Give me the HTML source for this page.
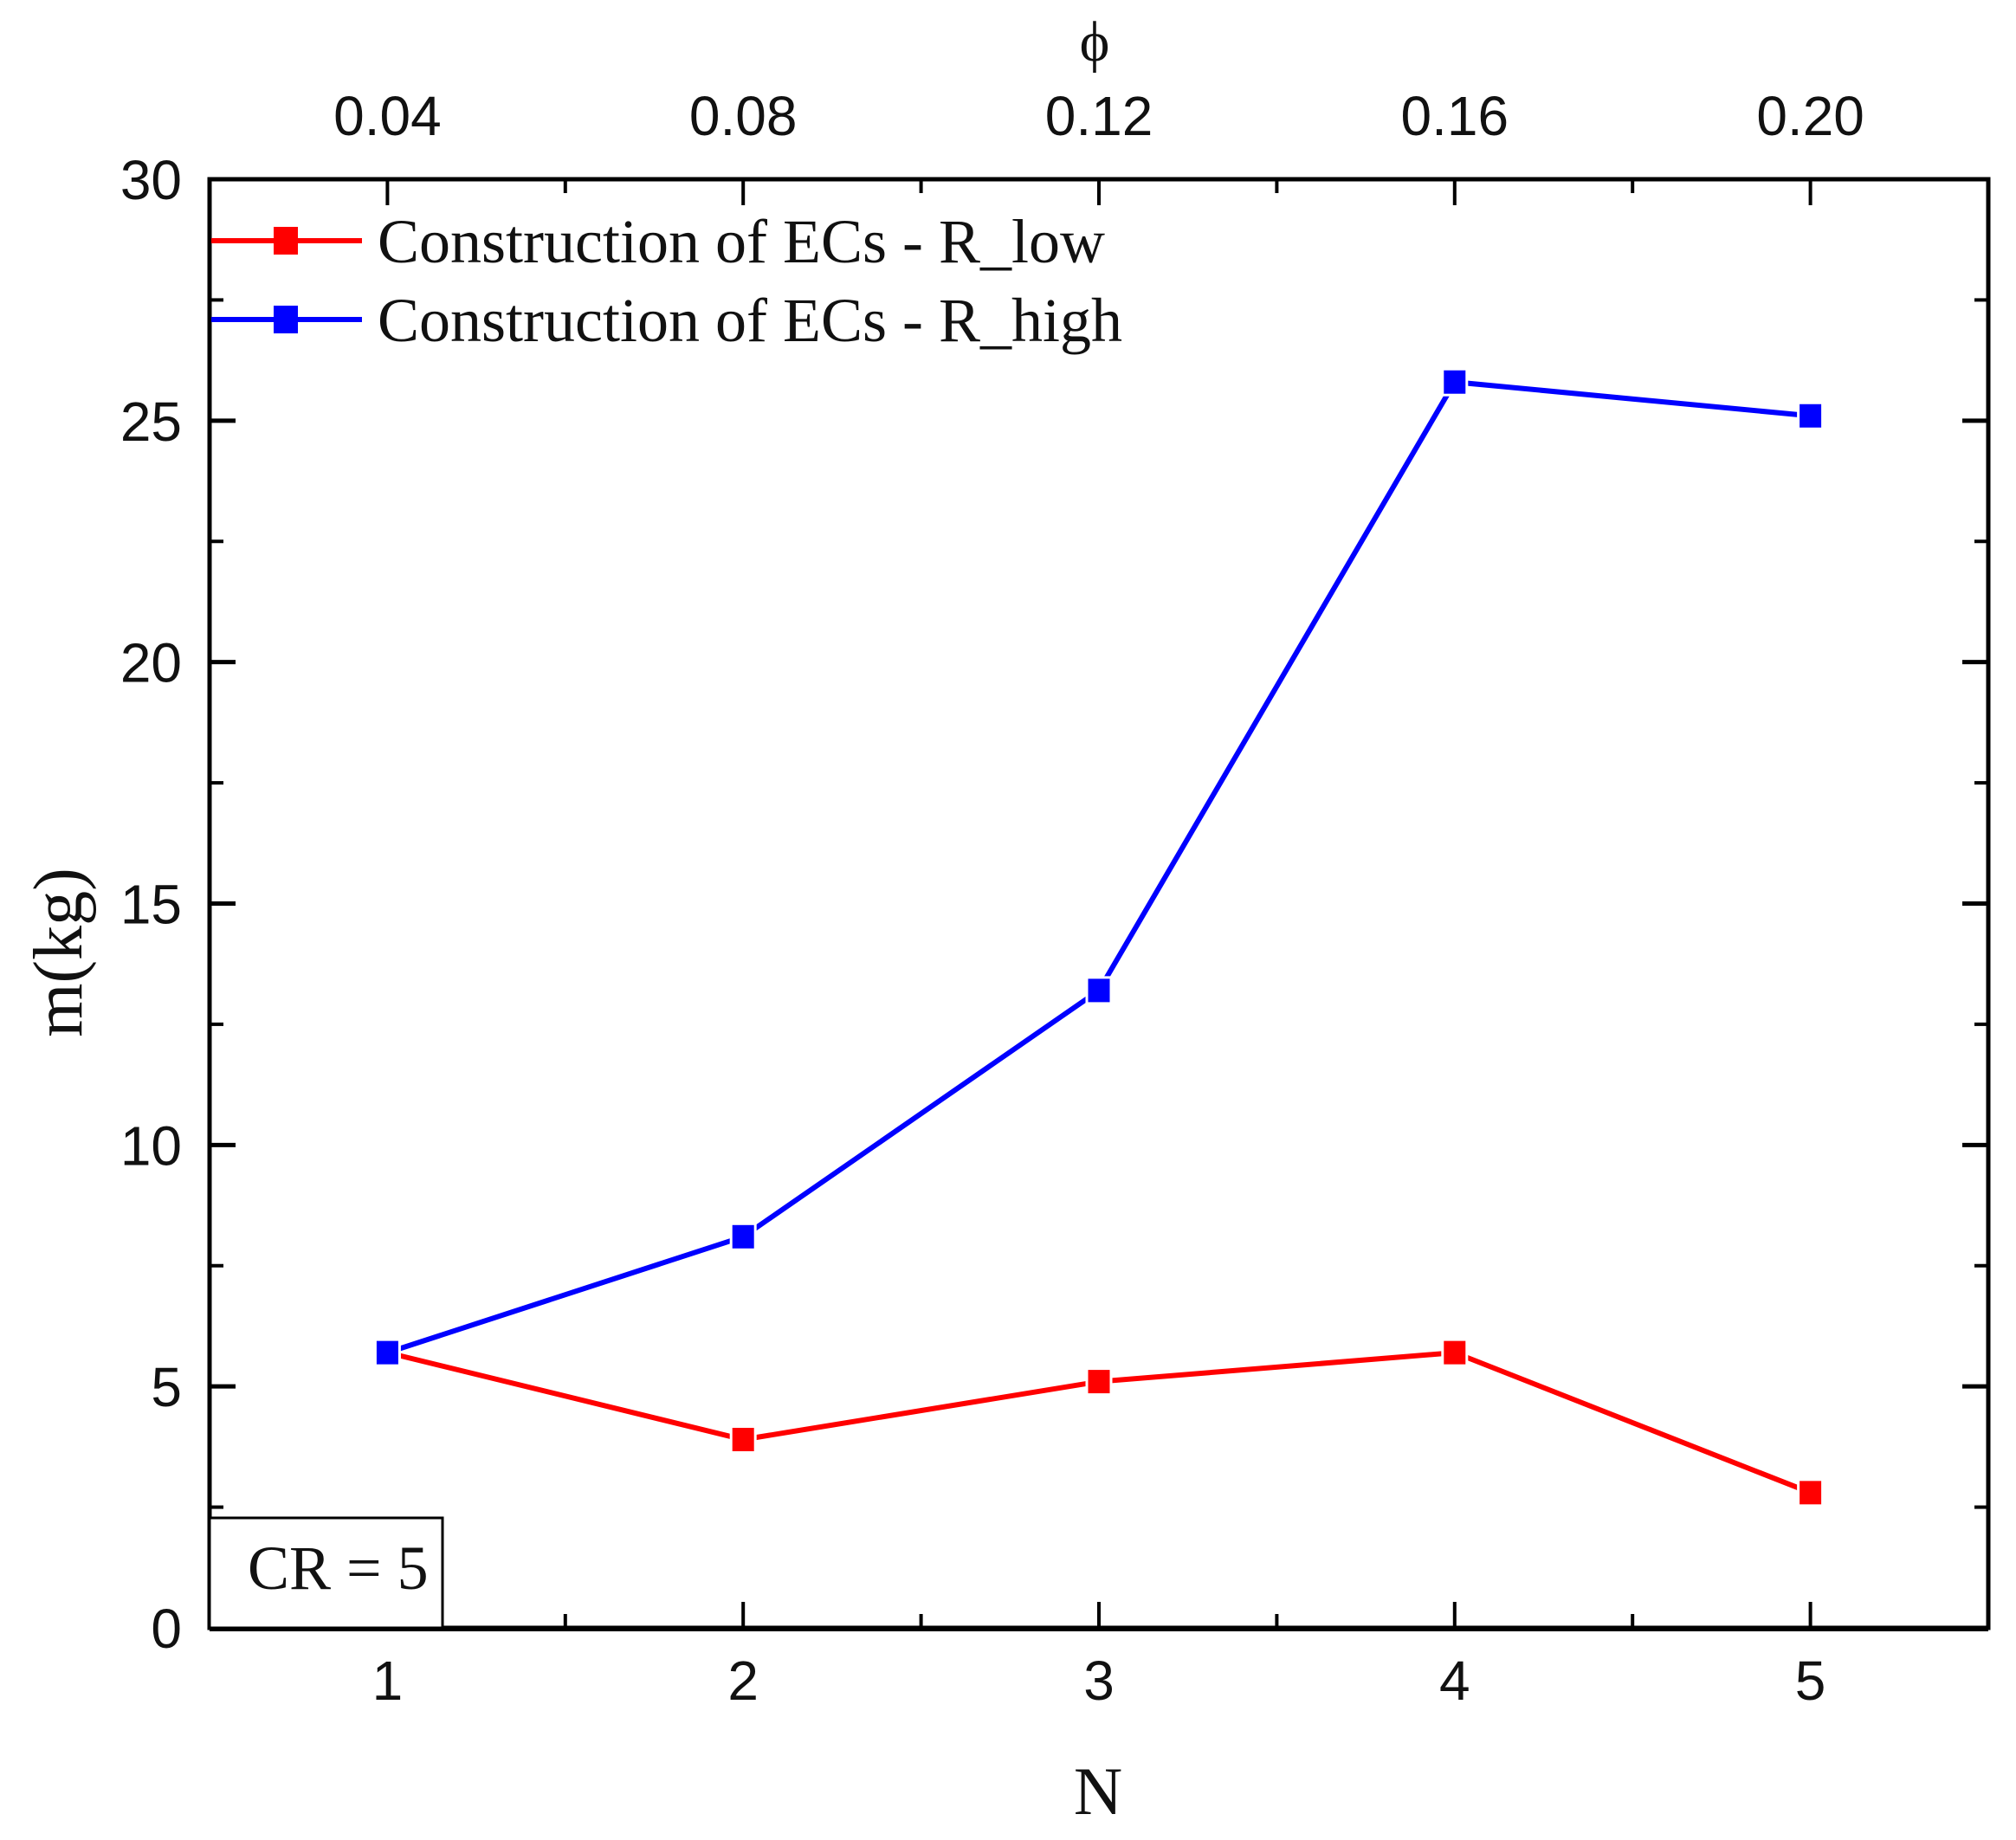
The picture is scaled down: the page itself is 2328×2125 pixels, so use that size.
<!DOCTYPE html>
<html><head><meta charset="utf-8"><style>
html,body{margin:0;padding:0;background:#fff;}
svg{display:block;}
.tick{font-family:"Liberation Sans",sans-serif;font-size:64px;fill:#111;}
.serif{font-family:"Liberation Serif",serif;fill:#111;}
</style></head><body>
<svg id="chart" width="2328" height="2125" viewBox="0 0 2328 2125">
</svg>
<script>
const categories = [1, 2, 3, 4, 5];
const phiLabels = ["0.04", "0.08", "0.12", "0.16", "0.20"];
const rLow = [5.7, 3.9, 5.1, 5.7, 2.8];
const rHigh = [5.7, 8.1, 13.2, 25.8, 25.1];
const yTicks = [0, 5, 10, 15, 20, 25, 30];

const L = 242, R = 2296, T = 207, B = 1880;
const xMin = 0.5, xMax = 5.5, yMin = 0, yMax = 30;
const xs = v => L + (v - xMin) / (xMax - xMin) * (R - L);
const ys = v => B - (v - yMin) / (yMax - yMin) * (B - T);
const svg = document.getElementById('chart');
const NS = 'http://www.w3.org/2000/svg';
function mk(tag, attrs, parent) {
  const e = document.createElementNS(NS, tag);
  for (const k in attrs) e.setAttribute(k, attrs[k]);
  (parent || svg).appendChild(e);
  return e;
}

const frame = mk('rect', {x: L, y: T, width: R - L, height: B - T, fill: 'none', stroke: '#000', 'stroke-width': 5});


mk('line', {x1: L, x2: R, y1: B + 2, y2: B + 2, stroke: '#000', 'stroke-width': 4});

yTicks.forEach((v, i) => {
  const y = ys(v);
  mk('line', {x1: L, x2: L + 30, y1: y, y2: y, stroke: '#000', 'stroke-width': 5});
  mk('line', {x1: R, x2: R - 30, y1: y, y2: y, stroke: '#000', 'stroke-width': 5});
  if (i < yTicks.length - 1) {
    const ym = ys(v + 2.5);
    mk('line', {x1: L, x2: L + 16, y1: ym, y2: ym, stroke: '#000', 'stroke-width': 4});
    mk('line', {x1: R, x2: R - 16, y1: ym, y2: ym, stroke: '#000', 'stroke-width': 4});
  }
  const t = mk('text', {x: 210, y: y + 23, 'text-anchor': 'end', class: 'tick'});
  t.textContent = v;
  
  
});

categories.forEach((c, i) => {
  const x = xs(c);
  mk('line', {x1: x, x2: x, y1: B, y2: B - 30, stroke: '#000', 'stroke-width': 4});
  mk('line', {x1: x, x2: x, y1: T, y2: T + 30, stroke: '#000', 'stroke-width': 4});
  const xm = xs(c + 0.5);
  if (c + 0.5 < xMax) {
    mk('line', {x1: xm, x2: xm, y1: B, y2: B - 16, stroke: '#000', 'stroke-width': 4});
    mk('line', {x1: xm, x2: xm, y1: T, y2: T + 16, stroke: '#000', 'stroke-width': 4});
  }
  const t = mk('text', {x: x, y: 1963, 'text-anchor': 'middle', class: 'tick'});
  t.textContent = c;
  
  
  const t2 = mk('text', {x: x, y: 156, 'text-anchor': 'middle', class: 'tick'});
  t2.textContent = phiLabels[i];
  
  
});

function series(vals, color, name) {
  const pts = vals.map((v, i) => xs(categories[i]) + ',' + ys(v)).join(' ');
  const pl = mk('polyline', {points: pts, fill: 'none', stroke: color, 'stroke-width': 6});
  
  
  vals.forEach((v, i) => {
    const r = mk('rect', {x: xs(categories[i]) - 14, y: ys(v) - 15, width: 28, height: 30, fill: color, stroke: '#fff', 'stroke-width': 3});
    
    
  });
}
series(rLow, '#ff0000', 'r-low');
series(rHigh, '#0000ff', 'r-high');

[[278, '#ff0000', 'Construction of ECs - R_low', 'legend-entry-r-low'], [369, '#0000ff', 'Construction of ECs - R_high', 'legend-entry-r-high']].forEach(([y, c, txt, nm]) => {
  const g = mk('g', {});
  
  
  mk('line', {x1: 244, x2: 418, y1: y, y2: y, stroke: c, 'stroke-width': 6}, g);
  mk('rect', {x: 316, y: y - 16, width: 28, height: 32, fill: c}, g);
  const t = mk('text', {x: 436, y: y + 25, class: 'serif', 'font-size': 72}, g);
  t.textContent = txt;
});

const box = mk('rect', {x: 242, y: 1753, width: 269, height: 127, fill: '#fff', stroke: '#000', 'stroke-width': 3});


const cr = mk('text', {x: 286, y: 1835, class: 'serif', 'font-size': 72});
cr.textContent = 'CR = 5';



const yt = mk('text', {x: 0, y: 0, class: 'serif', 'font-size': 80, 'text-anchor': 'middle', transform: 'translate(94,1100) rotate(-90)'});
yt.textContent = 'm(kg)';


const xt = mk('text', {x: 1268, y: 2095, class: 'serif', 'font-size': 78, 'text-anchor': 'middle'});
xt.textContent = 'N';


const pt = mk('text', {x: 1264, y: 70, class: 'serif', 'font-size': 66, 'text-anchor': 'middle'});
pt.textContent = 'ϕ';


</script>
</body></html>
